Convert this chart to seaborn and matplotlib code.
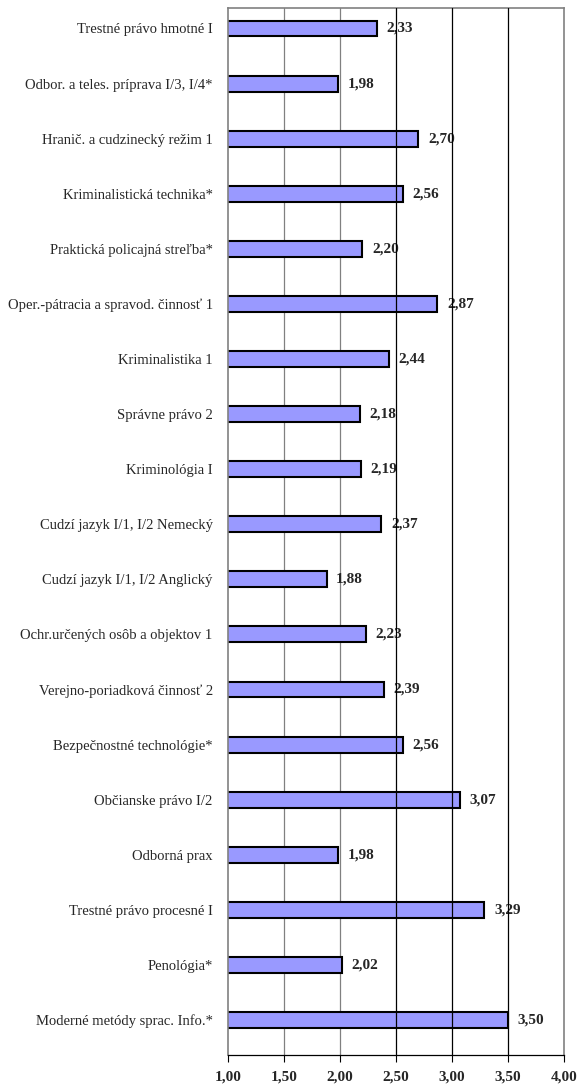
import numpy as np
import pandas as pd
import matplotlib
matplotlib.use("Agg")
import matplotlib.pyplot as plt
import seaborn as sns

subjects = [
    "Trestné právo hmotné I",
    "Odbor. a teles. príprava I/3, I/4*",
    "Hranič. a cudzinecký režim 1",
    "Kriminalistická technika*",
    "Praktická policajná streľba*",
    "Oper.-pátracia a spravod. činnosť 1",
    "Kriminalistika 1",
    "Správne právo 2",
    "Kriminológia I",
    "Cudzí jazyk I/1, I/2 Nemecký",
    "Cudzí jazyk I/1, I/2 Anglický",
    "Ochr.určených osôb a objektov 1",
    "Verejno-poriadková činnosť 2",
    "Bezpečnostné technológie*",
    "Občianske právo I/2",
    "Odborná prax",
    "Trestné právo procesné I",
    "Penológia*",
    "Moderné metódy sprac. Info.*",
]
scores = [2.33, 1.98, 2.70, 2.56, 2.20, 2.87, 2.44, 2.18, 2.19, 2.37,
          1.88, 2.23, 2.39, 2.56, 3.07, 1.98, 3.29, 2.02, 3.50]
x_ticks = [1.0, 1.5, 2.0, 2.5, 3.0, 3.5, 4.0]

df = pd.DataFrame({"subject": subjects, "score": scores})

sns.set_style("white")
plt.rcParams['font.family'] = ['Liberation Serif', 'DejaVu Serif']

fig = plt.figure(figsize=(5.77, 10.88), dpi=100)
ax = fig.add_axes([228 / 577, 1 - 1055 / 1088, (564 - 228) / 577, (1055 - 8) / 1088])

# mriežka - prvé dve sivé, ďalšie čierne
for xv, c in zip(x_ticks[1:-1], ["#808080", "#808080", "black", "black", "black"]):
    ax.axvline(xv, color=c, lw=0.9, zorder=0 if c != "black" else 4)

sns.barplot(data=df, x="score", y="subject", orient="h", color="#9999FF",
            edgecolor="black", linewidth=1.5, width=0.29, saturation=1,
            ax=ax, zorder=2)

# hodnoty za stĺpcami
for i, v in enumerate(scores):
    ax.text(v + 0.085, i, "{:.2f}".format(v).replace(".", ","), va="center", ha="left",
            fontsize=11, fontweight="bold", zorder=3)

ax.set_xlim(1.0, 4.0)
ax.set_ylim(len(subjects) - 1 + 0.635, -0.372)
ax.set_xticks(x_ticks)
ax.set_xticklabels(["{:.2f}".format(t).replace(".", ",") for t in x_ticks],
                   fontsize=11, fontweight="bold")
ax.tick_params(axis="x", direction="out", length=5, width=0.8, color="black",
               bottom=True, pad=6)
ax.tick_params(axis="y", length=0, labelsize=10.5, pad=11)
ax.set_xlabel("")
ax.set_ylabel("")
for name, sp in ax.spines.items():
    sp.set_color("#808080")
    sp.set_linewidth(1.2)
ax.spines["bottom"].set_color("black")
ax.spines["bottom"].set_linewidth(0.9)

plt.savefig("out.png", dpi=100)
